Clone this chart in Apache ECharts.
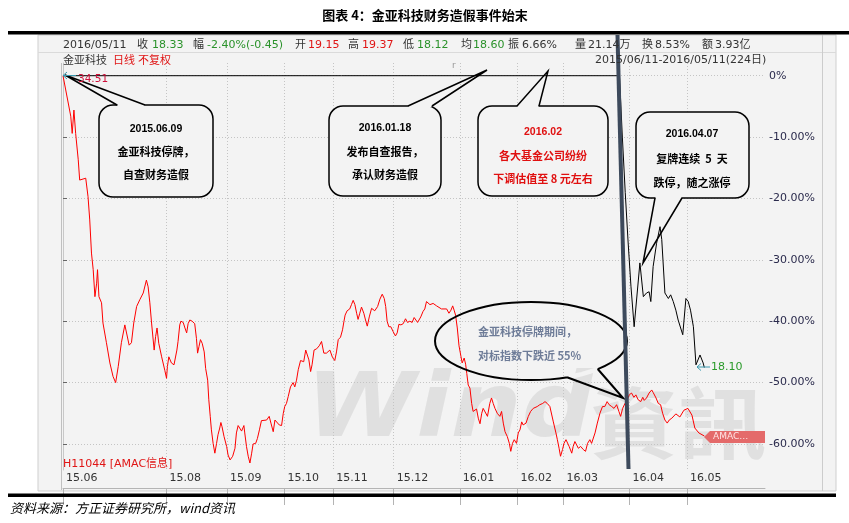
<!DOCTYPE html>
<html><head><meta charset="utf-8">
<script src="https://cdn.jsdelivr.net/npm/echarts@6/dist/echarts.min.js"></script>
<style>html,body{margin:0;padding:0;background:#fff}#c{width:849px;height:523px}</style>
</head><body><div id="c"></div><script>
// ---- data ----
const monthLabels = ['15.06','15.08','15.09','15.10','15.11','15.12','16.01','16.02','16.03','16.04','16.05'];
const monthDays   = [0,36,57,77,94,115,138,158,174,197,217]; // trading-day index of each month start
const yTicks = [0,-10,-20,-30,-40,-50,-60];
// H11044 index, % change vs 2015/06/11, [trading day, pct]
const indexPoints = [[0,0],[2.7,-6.6],[3.2,-9.4],[3.8,-5.6],[4.1,-5.9],[4.4,-9.4],[5.3,-13.7],[5.8,-17],[6.2,-16.7],[7.9,-16.7],[8.7,-19.7],[9.3,-23.5],[9.9,-28.9],[10.5,-31.6],[11.1,-36],[11.7,-33.8],[12.0,-31.6],[12.5,-36],[13.4,-37],[13.9,-40.3],[15.1,-43.5],[16.3,-46.8],[17.4,-49],[18.3,-50],[19.2,-47.4],[20.3,-43.5],[21.5,-40.6],[22.1,-40.3],[23.0,-43.9],[23.8,-43.5],[24.6,-40.3],[25.6,-37.6],[26.7,-36.5],[27.9,-35.4],[29.0,-33.3],[29.6,-34.4],[30.2,-37],[30.8,-40.3],[31.7,-44.7],[32.2,-42.5],[32.7,-41.1],[33.3,-43.6],[34.3,-45.8],[35.4,-48],[36.0,-49.3],[36.3,-47.4],[36.8,-45.8],[37.1,-46],[37.7,-46.8],[38.6,-47.1],[39.1,-47.4],[39.6,-44.7],[40.0,-43.3],[40.6,-40.6],[41.0,-40],[41.8,-40.2],[42.4,-41.1],[43.0,-41.9],[43.5,-40.4],[44.1,-39.8],[44.9,-40],[45.8,-40.4],[46.4,-42.8],[46.8,-45.2],[47.3,-44.1],[47.8,-43],[48.4,-43.6],[49.1,-45],[49.6,-47.7],[50.3,-49.6],[50.7,-52.8],[51.2,-55.5],[51.6,-57.7],[52.2,-59.9],[52.8,-61.5],[53.4,-59.9],[53.9,-58.5],[54.5,-57.4],[54.9,-56.5],[55.3,-57.2],[56.0,-58.8],[56.9,-60.4],[57.4,-61.8],[58.1,-62.6],[59.0,-62],[59.8,-60.7],[60.3,-58.2],[60.9,-57],[61.5,-57.3],[62.1,-57.9],[62.9,-57],[63.2,-58.2],[63.8,-60.4],[64.4,-62],[65.0,-63.1],[65.6,-61.5],[66.1,-60],[67.0,-59.9],[67.6,-59.1],[68.3,-57.7],[69.0,-56.2],[70.8,-56.1],[71.7,-55.5],[72.3,-56.6],[73.1,-58],[73.7,-56.1],[74.3,-56.4],[75.2,-56.9],[76.0,-57],[76.6,-55],[77.1,-53.9],[77.7,-53.4],[78.3,-52.3],[79.1,-50.7],[80.0,-50],[80.6,-50.7],[81.2,-49.6],[81.8,-47.9],[82.6,-46.4],[83.2,-46.3],[83.7,-46.6],[84.4,-44.7],[84.9,-44.4],[85.5,-46.3],[86.1,-48.2],[86.6,-47.1],[87.3,-44.7],[88.2,-44.5],[89.1,-44],[89.9,-43.3],[90.7,-45.2],[91.6,-45.2],[92.8,-44.7],[93.7,-45.9],[94.5,-46.4],[95.1,-45],[95.7,-43],[96.5,-42.6],[97.2,-41.4],[97.7,-40],[98.1,-39],[98.8,-38.3],[99.7,-38],[100.3,-37.3],[100.9,-36.6],[101.5,-37.3],[102.1,-38.7],[102.6,-39.7],[103.2,-38.7],[103.8,-37.7],[104.6,-38.7],[105.3,-40],[105.8,-40.8],[106.5,-39.3],[107.3,-37.9],[107.9,-37.7],[108.4,-38.3],[109.4,-37.6],[110.2,-36.4],[111.0,-35.6],[111.7,-36.3],[112.2,-37.6],[112.7,-40],[113.3,-40.9],[114.0,-40.9],[114.8,-41.7],[115.6,-42.4],[116.2,-41.9],[116.8,-40.5],[117.5,-40.6],[118.3,-40.4],[119.1,-39.6],[119.8,-40.2],[120.6,-40],[121.4,-40.2],[122.1,-39.4],[122.7,-39.7],[123.3,-40.2],[123.9,-39.9],[124.4,-39.3],[125.2,-38.4],[125.8,-38],[126.4,-36.8],[127.0,-36.8],[127.6,-37.3],[128.2,-37.5],[128.7,-37.1],[129.3,-36.8],[129.9,-37.5],[130.5,-37.7],[131.6,-38],[133.4,-38],[134.2,-38.7],[134.9,-38.2],[135.5,-37.5],[136.0,-38.2],[136.5,-39],[137.1,-41.1],[137.7,-44],[138.4,-45.8],[138.8,-46.8],[139.5,-46],[140.0,-47],[140.4,-48.5],[140.9,-50.4],[141.5,-50.9],[142.1,-53.4],[142.6,-54.7],[143.2,-55],[143.8,-54.3],[144.4,-55.8],[145.0,-56.7],[145.6,-55],[146.1,-54.2],[146.7,-54.2],[147.6,-55.5],[148.4,-53.4],[149.0,-52.5],[149.6,-53.4],[150.2,-54.2],[151.0,-55],[151.9,-55.5],[152.5,-54.7],[153.1,-56.6],[153.7,-58],[154.5,-58.8],[155.2,-59.9],[155.7,-61.2],[156.3,-59.9],[156.9,-59.3],[157.7,-59.9],[158.3,-58.2],[158.9,-57.7],[159.5,-56.4],[160.0,-56.9],[161.0,-56.6],[161.8,-55.5],[162.6,-54.7],[163.5,-54.2],[164.1,-54.4],[164.9,-53.9],[165.8,-53.6],[166.8,-53.4],[167.6,-53.1],[168.4,-53.4],[169.3,-53.9],[170.5,-56.4],[171.4,-58.2],[171.9,-59.3],[172.5,-60.7],[173.0,-62],[173.7,-60.9],[174.2,-59.9],[174.9,-59.3],[175.5,-59.6],[176.0,-60.4],[176.9,-61.5],[177.4,-60.4],[178.0,-59.6],[178.6,-59.9],[179.2,-60.7],[180.0,-60.4],[180.9,-60.9],[181.7,-61.2],[182.4,-59.9],[183.2,-59.3],[183.8,-59.9],[184.4,-59.8],[185.0,-58.2],[185.8,-56.6],[186.7,-55],[187.6,-53.9],[188.4,-53.9],[189.2,-53.1],[189.9,-53.6],[190.8,-53.9],[191.6,-54.2],[192.5,-53.6],[193.3,-54.7],[193.9,-55.5],[194.6,-54.2],[195.4,-53.4],[196.2,-52.8],[196.9,-52],[197.7,-51.7],[198.5,-52.4],[199.2,-52],[200.0,-52.8],[200.9,-53.1],[201.6,-52.4],[202.1,-52.9],[202.9,-52.5],[203.8,-51.7],[204.7,-51.2],[205.2,-51.6],[206.2,-52.5],[207.0,-53.4],[207.8,-53.6],[208.5,-55],[209.3,-56.1],[210.1,-56.6],[210.8,-56.1],[211.7,-55.8],[213.1,-55.1],[214.5,-55.6],[215.9,-54.5],[217.3,-54.2],[218.7,-55.3],[219.7,-57.4],[221.1,-58.2],[223.0,-58.7]];
// 金亚科技 stock, % change vs 34.51, [trading day, pct]
const stockPoints = [[0,0],[193.5,0],[194.5,-10],[195.5,-19],[196.5,-27.1],[197.5,-34.4],[198.6,-40.9],[200.6,-30.5],[201.8,-36],[202.9,-35.4],[203.8,-35.2],[204.4,-36.8],[205.2,-31.1],[206.4,-27.3],[207.6,-24.6],[208.2,-26.7],[209.3,-35.4],[210.5,-36.3],[211.3,-35.7],[212.2,-36.8],[213.1,-38.2],[213.9,-39.8],[215.5,-42.2],[216.6,-36.3],[217.4,-36.8],[218.2,-38.2],[219.2,-40.9],[220.1,-47.1],[221.5,-45.5],[222.6,-46.8],[223,-47.55]];
const infoTexts = ['2016/05/11','收','18.33','幅','-2.40%(-0.45)','开','19.15','高','19.37','低','18.12','均','18.60','振','6.66%','量','21.14万','换','8.53%','额','3.93亿'];
const infoKinds = ['n','n','g','n','g','n','r','n','r','n','g','n','g','n','n','n','n','n','n','n','n'];

// ---- layout / style ----
const LAT = "'DejaVu Sans','Noto Sans CJK SC',sans-serif";
const CJK = "'Noto Sans CJK SC','DejaVu Sans',sans-serif";
const XMAX = 244.1, YMIN = -64.24, YMAX = 2.07;
const BG = '#f3f3f3';
const kindColor = {n:'#333', g:'#2a922a', r:'#e01515'};
const infoX = [63,137,152,193,207,295,308,348,362,403,417,461,473,508,522,575,588,642,655,702,715];

function T(x, y, text, fill, font, align, extra) {
  return Object.assign({type:'text', x, y, z:30, silent:true,
    style:{text, fill, font, align:align||'left', textAlign:align||'left', verticalAlign:'middle', textVerticalAlign:'middle'}}, extra||{});
}
function bubble(x,y,w,h,r,side,b1,b2,tx,ty){
  const ey = side==='top' ? y : y+h;
  return [
    {type:'rect', z:20, silent:true, shape:{x,y,width:w,height:h,r}, style:{fill:BG, stroke:'#000', lineWidth:1.5}},
    {type:'line', z:21, silent:true, shape:{x1:b1+0.5,y1:ey,x2:b2-0.5,y2:ey}, style:{stroke:BG, lineWidth:3}},
    {type:'polyline', z:22, silent:true, shape:{points:[[b1,ey],[tx,ty],[b2,ey]]}, style:{fill:'none', stroke:'#000', lineWidth:1.5}}
  ];
}

const g = [];
// panel & frame
g.push({type:'rect', z:-10, silent:true, shape:{x:38,y:35,width:798,height:456}, style:{fill:BG, stroke:'#cfcfcf', lineWidth:1}});
g.push({type:'line', z:-8, silent:true, shape:{x1:38,y1:52.5,x2:836,y2:52.5}, style:{stroke:'#dadada', lineWidth:1}});
g.push({type:'line', z:-8, silent:true, shape:{x1:61.5,y1:63,x2:61.5,y2:490}, style:{stroke:'#c0c0c0', lineWidth:1}});
g.push({type:'line', z:-8, silent:true, shape:{x1:822.5,y1:35,x2:822.5,y2:491}, style:{stroke:'#cccccc', lineWidth:1}});
// watermark
g.push({type:'text', z:-5, silent:true, x:306, y:458, scaleX:1.25, scaleY:1.12,
  style:{text:'Wind', fill:'#e0e0e0', font:"italic bold 80px 'DejaVu Sans'", align:'left', textAlign:'left', verticalAlign:'bottom', textVerticalAlign:'bottom'}});
g.push({type:'text', z:-5, silent:true, x:590, y:462, scaleX:1.13,
  style:{text:'資訊', fill:'#e0e0e0', font:"bold 78px 'Noto Sans CJK SC'", align:'left', textAlign:'left', verticalAlign:'bottom', textVerticalAlign:'bottom'}});
// title + rules + source
g.push(T(425, 15, '图表 4：金亚科技财务造假事件始末', '#000', "bold 13px 'Noto Sans CJK SC'", 'center'));
g.push({type:'rect', z:30, silent:true, shape:{x:8,y:31,width:841,height:3.5}, style:{fill:'#000'}});
g.push({type:'rect', z:30, silent:true, shape:{x:8,y:493.5,width:828,height:3.5}, style:{fill:'#000'}});
g.push(T(10, 508, '资料来源：方正证券研究所，wind资讯', '#000', "italic 13px 'Noto Sans CJK SC'", 'left'));
// info rows
infoTexts.forEach((t,i)=>g.push(T(infoX[i], 45, t, kindColor[infoKinds[i]], '11px '+LAT)));
g.push(T(63, 60, '金亚科技', '#333', '11px '+CJK));
g.push(T(113, 60, '日线', '#e01515', '11px '+CJK));
g.push(T(138, 60, '不复权', '#e01515', '11px '+CJK));
g.push(T(595, 60, '2015/06/11-2016/05/11(224日)', '#333', '11px '+LAT));
g.push(T(452, 66, 'r', '#999', '9px '+LAT));
g.push(T(63, 464, 'H11044 [AMAC信息]', '#e01515', '11px '+LAT));
// price labels
g.push({type:'polyline', z:30, silent:true, shape:{points:[[67,72],[63,75.5],[67,79]]}, style:{stroke:'#3a9ab0', lineWidth:1, fill:'none'}});
g.push({type:'line', z:30, silent:true, shape:{x1:63,y1:75.5,x2:76,y2:75.5}, style:{stroke:'#3a9ab0', lineWidth:1}});
g.push(T(78, 79, '34.51', '#d0103a', '10.5px '+LAT));
g.push({type:'polyline', z:30, silent:true, shape:{points:[[701,363.5],[697,367],[701,370.5]]}, style:{stroke:'#3a9ab0', lineWidth:1, fill:'none'}});
g.push({type:'line', z:30, silent:true, shape:{x1:697,y1:367,x2:710,y2:367}, style:{stroke:'#3a9ab0', lineWidth:1}});
g.push(T(711, 367, '18.10', '#2a9a2a', '11px '+LAT));
// AMAC tag
g.push({type:'polygon', z:30, silent:true, shape:{points:[[704,437],[710,431],[765,431],[765,443],[710,443]]}, style:{fill:'#e46a6a'}});
g.push(T(713, 437, 'AMAC…', '#ffe4e4', '9px '+LAT));
// thick slanted marker
g.push({type:'line', z:25, silent:true, shape:{x1:617.5,y1:35,x2:628.5,y2:469}, style:{stroke:'#3d4a5c', lineWidth:4}});
// bubbles
g.push(...bubble(99,105,114,92,14,'top',117,145,65,75));
g.push(...bubble(329,106,112,90,14,'top',408,432,487,70));
g.push(...bubble(478,106,130,90,14,'top',517,539,548,71));
g.push(...bubble(636,112,113,86,14,'bottom',655,682,643,263));
const DB = "bold 10.5px 'Liberation Sans'";
const CB = "bold 11px 'Noto Sans CJK SC'";
g.push(T(156,129,'2015.06.09','#000',DB,'center'), T(156,152,'金亚科技停牌，','#000',CB,'center'), T(156,175,'自查财务造假','#000',CB,'center'));
g.push(T(385,128,'2016.01.18','#000',DB,'center'), T(385,152,'发布自查报告，','#000',CB,'center'), T(385,175,'承认财务造假','#000',CB,'center'));
g.push(T(543,132,'2016.02','#e01010',DB,'center'), T(543,156,'各大基金公司纷纷','#e01010',CB,'center'), T(543,179,'下调估值至 8 元左右','#e01010',CB,'center'));
g.push(T(692,134,'2016.04.07','#000',DB,'center'), T(692,159,'复牌连续  5  天','#000',CB,'center'), T(692,183,'跌停，随之涨停','#000',CB,'center'));
// ellipse callout
g.push({type:'ellipse', z:21, silent:true, shape:{cx:531, cy:341, rx:96, ry:39}, style:{fill:'none', stroke:'#000', lineWidth:2}});
g.push({type:'polyline', z:22, silent:true, shape:{points:[[597.7,369],[590.1,371.7],[581.9,374.1],[574.6,375.7],[567,377.2]]}, style:{fill:'none', stroke:BG, lineWidth:4.5}});
g.push({type:'polyline', z:23, silent:true, shape:{points:[[567,377.2],[623,398],[597.7,369]]}, style:{fill:'none', stroke:'#000', lineWidth:2}});
g.push(T(478,332,'金亚科技停牌期间，','#6e7c98',CB,'left'), T(478,356,'对标指数下跌近 55%','#6e7c98',CB,'left'));

const option = {
  animation:false,
  grid:[{left:63, right:84, top:63, height:407},{left:63, right:84, top:470, height:18}],
  xAxis:[
    {type:'value', gridIndex:0, min:0, max:XMAX, axisLine:{show:false},
     axisTick:{show:false, customValues:monthDays}, axisLabel:{show:false, customValues:monthDays},
     splitLine:{show:true, lineStyle:{color:'#c4c4c4', type:[1,2], width:1}}},
    {type:'value', gridIndex:1, min:0, max:XMAX, position:'top',
     axisLine:{show:true, lineStyle:{color:'#b4b4b4'}},
     axisTick:{show:true, inside:true, length:17, customValues:monthDays, lineStyle:{color:'#b4b4b4'}},
     axisLabel:{inside:true, customValues:monthDays, formatter:v=>monthLabels[monthDays.indexOf(v)]||'',
       align:'left', verticalAlign:'top', margin:3, padding:[0,0,0,3], color:'#333', fontFamily:LAT, fontSize:11},
     splitLine:{show:false}}
  ],
  yAxis:[
    {type:'value', gridIndex:0, position:'right', min:YMIN, max:YMAX,
     axisLine:{show:true, lineStyle:{color:'#c8c8c8'}},
     axisTick:{show:true, length:4, customValues:yTicks, lineStyle:{color:'#666'}},
     axisLabel:{customValues:yTicks, margin:4, formatter:v=>v===0?'0%':v.toFixed(2)+'%', color:'#2a2a4c', fontFamily:LAT, fontSize:11},
     splitLine:{show:true, lineStyle:{color:'#c4c4c4', type:[1,2], width:1}}},
    {type:'value', gridIndex:1, show:false, min:0, max:1}
  ],
  series:[
    {type:'line', xAxisIndex:0, yAxisIndex:0, data:indexPoints, symbol:'none', z:3,
     lineStyle:{color:'#ff0000', width:1}},
    {type:'line', xAxisIndex:0, yAxisIndex:0, data:stockPoints, symbol:'none', z:4,
     lineStyle:{color:'#000000', width:1}}
  ],
  graphic:g
};
const chart = echarts.init(document.getElementById('c'), null, {renderer:'canvas'});
chart.setOption(option);
</script></body></html>
